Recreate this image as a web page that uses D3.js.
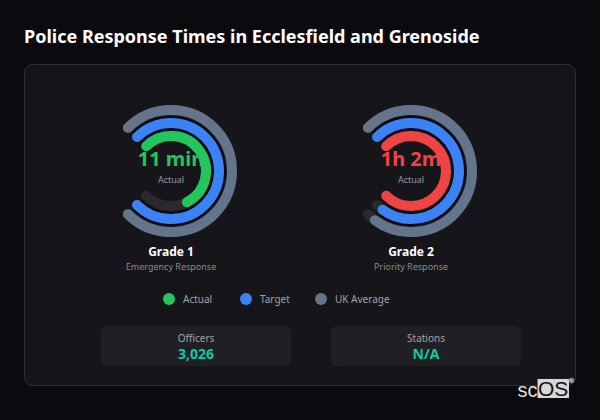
<!DOCTYPE html>
<html>
<head>
<meta charset="utf-8">
<title>Police Response Times</title>
<script src="https://d3js.org/d3.v7.min.js"></script>
<style>
html, body { margin: 0; padding: 0; background: #0a0a0f; }
svg { display: block; }
text { font-family: "Noto Sans", sans-serif; }
</style>
</head>
<body>
<svg id="chart" width="600" height="420"></svg>
<script>
// minutes
const grades = ["Grade 1", "Grade 2"];
const gradeSubs = ["Emergency Response", "Priority Response"];
const actualMins = [11, 62];
const targetMins = [15, 60];
const ukMins = [15, 60];
const actualLabels = ["11 min", "1h 2m"];
const actualColors = ["#22c55e", "#ef4444"];

const legendNames = ["Actual", "Target", "UK Average"];
const legendColors = ["#22c55e", "#3b82f6", "#64748b"];

const statNames = ["Officers", "Stations"];
const statValues = ["3,026", "N/A"];

const svg = d3.select("#chart");

svg.append("text").attr("x", 24).attr("y", 43)
    .attr("fill", "#fff").attr("font-size", 18).attr("font-weight", 700)
    .text("Police Response Times in Ecclesfield and Grenoside");

svg.append("rect").attr("x", 24.5).attr("y", 64.5).attr("width", 551).attr("height", 321).attr("rx", 8)
    .attr("fill", "#15151a").attr("stroke", "#2e2e33");

// one gauge per grade
const gaugeX = d3.scalePoint().domain(grades).range([171, 411]);
const ringW = 10;
const startA = -Math.PI / 4, endA = Math.PI * 5 / 4;

// open arc so the round caps show, angles clockwise from 12 o'clock
function arcPath(r, a0, a1) {
    const p = d3.path();
    p.arc(0, 0, r, a0 - Math.PI / 2, a1 - Math.PI / 2);
    return p.toString();
}

grades.forEach((g, i) => {
    const gauge = svg.append("g").attr("transform", `translate(${gaugeX(g)},171)`);
    const maxV = Math.max(actualMins[i], targetMins[i], ukMins[i]);
    const angle = d3.scaleLinear().domain([0, maxV]).range([startA, endA]);

    const rings = [
        { r: 61, v: ukMins[i], c: legendColors[2] },
        { r: 48, v: targetMins[i], c: legendColors[1], halo: true },
        { r: 35, v: actualMins[i], c: actualColors[i] }
    ];
    rings.forEach(d => {
        const part = arcPath(d.r, startA, angle(d.v));
        gauge.append("path").attr("d", arcPath(d.r, startA, endA)).attr("fill", "none")
            .attr("stroke", "#2a2a2e").attr("stroke-width", ringW).attr("stroke-linecap", "round");
        // dark halo on the middle ring, shows as the black gap either side of it
        if (d.halo) {
            gauge.append("path").attr("d", part).attr("fill", "none")
                .attr("stroke", "#07070c").attr("stroke-width", ringW + 3);
        }
        gauge.append("path").attr("d", part).attr("fill", "none")
            .attr("stroke", d.c).attr("stroke-width", ringW).attr("stroke-linecap", "round");
    });

    gauge.append("text").attr("y", -5).attr("text-anchor", "middle")
        .attr("fill", actualColors[i]).attr("font-size", 20).attr("font-weight", 700)
        .text(actualLabels[i]);
    gauge.append("text").attr("y", 12).attr("text-anchor", "middle")
        .attr("fill", "#9a9aa0").attr("font-size", 9)
        .text("Actual");
    gauge.append("text").attr("y", 85).attr("text-anchor", "middle")
        .attr("fill", "#fff").attr("font-size", 12).attr("font-weight", 700)
        .text(g);
    gauge.append("text").attr("y", 99).attr("text-anchor", "middle")
        .attr("fill", "#8a8a90").attr("font-size", 9)
        .text(gradeSubs[i]);
});

// legend
const legendX = [169, 246, 321];
legendNames.forEach((n, i) => {
    svg.append("circle").attr("cx", legendX[i]).attr("cy", 299).attr("r", 6).attr("fill", legendColors[i]);
    svg.append("text").attr("x", legendX[i] + 14).attr("y", 303)
        .attr("fill", "#a1a1a8").attr("font-size", 10).text(n);
});

// stat boxes
const statX = [101, 331];
statNames.forEach((n, i) => {
    svg.append("rect").attr("x", statX[i]).attr("y", 326).attr("width", 190).attr("height", 40).attr("rx", 6)
        .attr("fill", "#1f1f24");
    svg.append("text").attr("x", statX[i] + 95).attr("y", 341.5).attr("text-anchor", "middle")
        .attr("fill", "#a1a1a8").attr("font-size", 10).text(n);
    svg.append("text").attr("x", statX[i] + 95).attr("y", 358.5).attr("text-anchor", "middle")
        .attr("fill", "#10c9a0").attr("font-size", 14).attr("font-weight", 700).text(statValues[i]);
});

// scOS mark
svg.append("rect").attr("x", 537.5).attr("y", 379).attr("width", 31.5).attr("height", 19).attr("fill", "#d8d8d8");
svg.append("text").attr("x", 517.5).attr("y", 397)
    .style("font-family", "'Liberation Sans', sans-serif").attr("font-size", 20)
    .attr("fill", "#e0e0e0").text("sc");
svg.append("text").attr("x", 538).attr("y", 396)
    .style("font-family", "'Liberation Sans', sans-serif").attr("font-size", 21)
    .attr("fill", "#111").text("OS");
svg.append("circle").attr("cx", 571.5).attr("cy", 380.5).attr("r", 2.5)
    .attr("fill", "#777").attr("stroke", "#aaa").attr("stroke-width", 0.5);
svg.append("text").attr("x", 571.5).attr("y", 382).attr("text-anchor", "middle")
    .style("font-family", "'Liberation Sans', sans-serif").attr("font-size", 4)
    .attr("fill", "#ddd").text("R");
</script>
</body>
</html>
